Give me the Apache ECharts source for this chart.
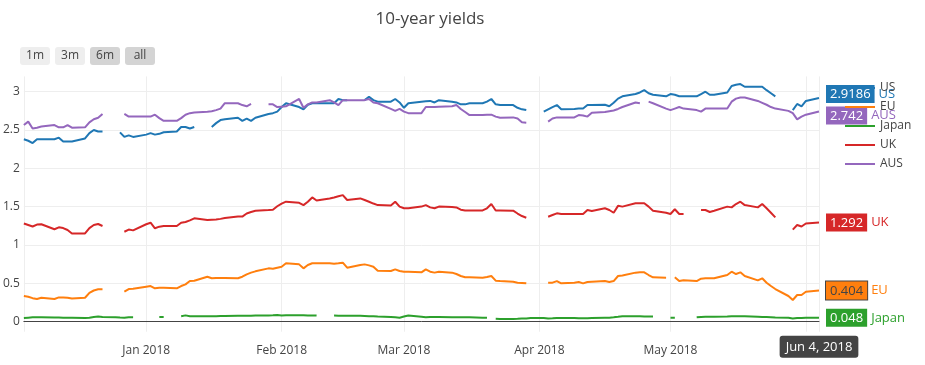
<!DOCTYPE html>
<html><head><meta charset="utf-8">
<script src="https://cdn.jsdelivr.net/npm/echarts@6/dist/echarts.min.js"></script>
<style>html,body{margin:0;padding:0;background:#fff}#c{width:925px;height:365px}</style>
</head><body><div id="c"></div>
<script>
// business days from Dec 4, 2017 to Jun 4, 2018
const startDay = [2017, 11, 4];
const endDay = [2018, 5, 4];
const dates = [];
(function(){
  const d = new Date(startDay[0], startDay[1], startDay[2]);
  const e = new Date(endDay[0], endDay[1], endDay[2]);
  while (d <= e) {
    const w = d.getDay();
    if (w !== 0 && w !== 6) {
      dates.push(d.getFullYear() + '-' + String(d.getMonth()+1).padStart(2,'0') + '-' + String(d.getDate()).padStart(2,'0'));
    }
    d.setDate(d.getDate() + 1);
  }
})();

const seriesNames = ['US', 'EU', 'Japan', 'UK', 'AUS'];
const seriesColors = ['#1f77b4', '#ff7f0e', '#2ca02c', '#d62728', '#9467bd'];
const buttonLabels = ['1m', '3m', '6m', 'all'];

const us = [
  2.38, 2.36, 2.33, 2.38, 2.38,
  2.38, 2.40, 2.35, 2.35, 2.35,
  2.39, 2.46, 2.50, 2.48, 2.48,
  null, 2.47, 2.41, 2.43, 2.41,
  2.44, 2.46, 2.44, 2.45, 2.47,
  2.48, 2.54, 2.54, 2.52, 2.54,
  null, 2.54, 2.59, 2.63, 2.64,
  2.66, 2.62, 2.65, 2.62, 2.66,
  2.71, 2.72, 2.74, 2.80, 2.85,
  2.80, 2.77, 2.83, 2.85, 2.85,
  2.85, 2.85, 2.905, 2.89, 2.89,
  null, 2.89, 2.935, 2.89, 2.87,
  2.87, 2.905, 2.86, 2.79, 2.85,
  2.87, 2.875, 2.88, 2.86, 2.89,
  2.87, 2.86, 2.835, 2.835, 2.85,
  2.85, 2.87, 2.905, 2.835, 2.826,
  2.826, 2.79, 2.77, 2.76, null,
  2.74, 2.77, 2.80, 2.826, 2.77,
  2.775, 2.78, 2.78, 2.826, 2.826,
  2.83, 2.81, 2.855, 2.91, 2.94,
  2.97, 2.99, 3.02, 2.98, 2.96,
  2.94, 2.97, 2.96, 2.94, 2.94,
  2.94, 2.97, 3.00, 2.96, 2.96,
  2.99, 3.075, 3.09, 3.10, 3.065,
  3.065, 3.065, 3.02, 2.98, 2.94,
  null, 2.76, 2.84, 2.81, 2.88,
  2.9186
];
const eu = [
  0.333, 0.323, 0.305, 0.294, 0.31,
  0.294, 0.315, 0.315, 0.31, 0.30,
  0.31, 0.375, 0.405, 0.42, 0.42,
  null, null, 0.39, 0.424, 0.428,
  0.455, 0.463, 0.433, 0.44, 0.44,
  0.433, 0.463, 0.485, 0.528, 0.532,
  0.585, 0.564, 0.568, 0.568, 0.568,
  0.564, 0.585, 0.616, 0.638, 0.655,
  0.694, 0.69, 0.703, 0.716, 0.76,
  0.746, 0.694, 0.738, 0.76, 0.76,
  0.76, 0.755, 0.76, 0.768, 0.703,
  0.738, 0.746, 0.733, 0.716, 0.663,
  0.659, 0.681, 0.659, 0.65, 0.65,
  0.642, 0.681, 0.65, 0.638, 0.65,
  0.638, 0.62, 0.594, 0.577, 0.577,
  0.572, 0.58, 0.594, 0.533, 0.528,
  0.52, 0.507, 0.503, 0.498, null,
  null, 0.507, 0.507, 0.528, 0.498,
  0.507, 0.515, 0.498, 0.515, 0.52,
  0.528, 0.515, 0.528, 0.594, 0.60,
  0.638, 0.642, 0.642, 0.607, 0.577,
  0.572, null, 0.577, 0.528, 0.54,
  0.528, 0.559, 0.564, 0.564, 0.564,
  0.607, 0.65, 0.62, 0.642, 0.594,
  0.537, 0.564, 0.507, 0.463, 0.424,
  0.333, 0.281, 0.346, 0.346, 0.389,
  0.404
];
const japan = [
  0.045, 0.05, 0.055, 0.055, 0.055,
  0.053, 0.052, 0.05, 0.05, 0.05,
  0.045, 0.048, 0.06, 0.065, 0.06,
  0.055, 0.052, 0.05, 0.055, 0.055,
  null, null, null, 0.06, 0.06,
  null, 0.07, 0.08, 0.07, 0.07,
  0.07, 0.07, 0.07, 0.072, 0.072,
  0.075, 0.075, 0.075, 0.075, 0.078,
  0.08, 0.082, 0.085, 0.08, 0.082,
  0.082, 0.082, 0.08, 0.08, 0.078,
  null, 0.077, 0.076, 0.075, 0.075,
  0.074, 0.072, 0.07, 0.068, 0.065,
  0.058, 0.055, 0.05, 0.065, 0.078,
  0.062, 0.055, 0.06, 0.058, 0.058,
  0.055, 0.055, 0.055, 0.056, 0.055,
  0.05, 0.05, null, 0.035, 0.033,
  0.033, 0.035, 0.038, 0.04, 0.045,
  0.045, 0.04, 0.042, 0.045, 0.045,
  0.045, 0.042, 0.042, 0.043, 0.045,
  0.05, 0.05, 0.055, 0.062, 0.07,
  0.07, 0.07, 0.065, 0.065, 0.065,
  null, 0.05, 0.05, null, null,
  0.055, 0.06, 0.062, 0.062, 0.062,
  0.065, 0.068, 0.07, 0.068, 0.068,
  0.062, 0.06, 0.058, 0.055, 0.052,
  0.05, 0.04, 0.045, 0.045, 0.05,
  0.048
];
const uk = [
  1.28, 1.26, 1.24, 1.265, 1.27,
  1.205, 1.23, 1.22, 1.195, 1.15,
  1.15, 1.22, 1.26, 1.273, 1.247,
  null, null, 1.172, 1.20, 1.19,
  1.27, 1.29, 1.217, 1.238, 1.247,
  1.247, 1.29, 1.30, 1.32, 1.347,
  1.325, 1.33, 1.333, 1.34, 1.35,
  1.37, 1.37, 1.41, 1.43, 1.447,
  1.455, 1.46, 1.505, 1.54, 1.565,
  1.55, 1.52, 1.564, 1.62, 1.58,
  1.607, 1.62, 1.635, 1.65, 1.586,
  1.607, 1.586, 1.564, 1.54, 1.52,
  1.515, 1.564, 1.50, 1.478, 1.48,
  1.50, 1.52, 1.49, 1.478, 1.50,
  1.495, 1.49, 1.46, 1.45, 1.45,
  1.45, 1.478, 1.534, 1.45, 1.45,
  1.447, 1.41, 1.377, 1.355, null,
  null, 1.368, 1.39, 1.412, 1.405,
  1.405, 1.405, 1.405, 1.456, 1.443,
  1.478, 1.456, 1.42, 1.51, 1.50,
  1.543, 1.543, 1.543, 1.50, 1.447,
  1.42, 1.403, 1.465, 1.403, 1.403,
  null, 1.456, 1.456, 1.43, 1.447,
  1.50, 1.49, 1.534, 1.564, 1.52,
  1.49, 1.534, 1.478, 1.42, 1.36,
  null, 1.20, 1.26, 1.24, 1.28,
  1.292
];
const aus = [
  2.565, 2.61, 2.52, 2.53, 2.545,
  2.565, 2.535, 2.535, 2.565, 2.53,
  2.535, 2.60, 2.64, 2.66, 2.71,
  null, null, 2.71, 2.675, 2.675,
  2.675, 2.675, 2.70, 2.655, 2.62,
  2.62, 2.655, 2.70, 2.72, 2.73,
  2.74, 2.745, 2.76, 2.78, 2.85,
  2.85, 2.826, 2.81, 2.84, null,
  2.835, 2.835, 2.80, 2.805, 2.81,
  2.905, 2.79, 2.835, 2.86, 2.86,
  2.89, 2.86, 2.826, 2.89, 2.89,
  2.89, 2.89, 2.905, 2.86, 2.85,
  2.775, 2.75, 2.775, 2.74, 2.72,
  2.72, 2.80, 2.80, 2.80, 2.805,
  2.81, 2.826, 2.775, 2.735, 2.695,
  2.695, 2.70, 2.70, 2.675, 2.66,
  2.665, 2.65, 2.60, 2.595, null,
  null, 2.61, 2.65, 2.665, 2.665,
  2.665, 2.695, 2.69, 2.675, 2.725,
  2.735, 2.745, 2.755, 2.775, 2.80,
  2.86, 2.85, null, 2.87, 2.85,
  2.78, 2.76, 2.78, 2.80, 2.78,
  2.76, 2.74, 2.78, 2.78, 2.78,
  2.78, 2.87, 2.91, 2.925, 2.925,
  2.88, 2.855, 2.83, 2.80, 2.78,
  2.75, 2.72, 2.64, 2.675, 2.70,
  2.742
];
const allValues = [us, eu, japan, uk, aus];

const FONT = 'Open Sans';
const MONTHS = ['Jan','Feb','Mar','Apr','May','Jun','Jul','Aug','Sep','Oct','Nov','Dec'];
const xMin = new Date(startDay[0], startDay[1], startDay[2]).getTime();
const xMax = new Date(endDay[0], endDay[1], endDay[2]).getTime();

const labelText = ['#fff', '#444', '#fff', '#fff', '#fff'];
const labelBorder = ['#fff', '#444', '#fff', '#fff', '#fff'];
const labelOffsets = [[0, -4], [0, 0], [0, 0], [0, 0], [0, 4]];

const series = seriesNames.map((name, k) => ({
  name: name,
  type: 'line',
  data: dates.map((d, i) => [d, allValues[k][i]]),
  showSymbol: false,
  symbol: 'none',
  connectNulls: false,
  color: seriesColors[k],
  lineStyle: { width: 2, color: seriesColors[k] },
  emphasis: { disabled: true },
  endLabel: {
    show: true,
    distance: 7,
    offset: labelOffsets[k],
    formatter: p => '{b|' + p.value[1] + '}{n|' + p.seriesName + '}',
    rich: {
      b: { backgroundColor: seriesColors[k], color: labelText[k], borderColor: labelBorder[k], borderWidth: 1,
           padding: [3, 4, 2, 4], fontSize: 13, fontFamily: FONT },
      n: { color: seriesColors[k], fontSize: 13, fontFamily: FONT, padding: [0, 0, 0, 4] }
    }
  }
}));

const btnX = [20, 55, 90, 125];
const btnFill = ['#eeeeee', '#eeeeee', '#d4d4d4', '#d4d4d4'];
const graphic = [];
buttonLabels.forEach((t, i) => {
  graphic.push({ type: 'rect', shape: { x: btnX[i], y: 47, width: 30, height: 18, r: 3 }, style: { fill: btnFill[i] }, z: 10 });
  graphic.push({ type: 'text', x: btnX[i] + 15, y: 56, style: { text: t, fill: '#444', font: '12px "Open Sans"', align: 'center', verticalAlign: 'middle' }, z: 11 });
});

const chart = echarts.init(document.getElementById('c'), null, { renderer: 'canvas' });
chart.setOption({
  animation: false,
  backgroundColor: '#fff',
  title: {
    text: '10-year yields', left: 425, top: 6, textAlign: 'center',
    textStyle: { fontSize: 17, color: '#444', fontWeight: 'normal', fontFamily: FONT }
  },
  legend: {
    data: seriesNames, orient: 'vertical', left: 840, top: 77,
    icon: 'rect', itemWidth: 30, itemHeight: 2, itemGap: 7,
    textStyle: { color: '#444', fontSize: 12, fontFamily: FONT },
    selectedMode: false
  },
  grid: { left: 20, right: 106, top: 76.4, bottom: 33.3, containLabel: false },
  xAxis: {
    type: 'time', min: xMin, max: xMax,
    splitLine: { show: true, lineStyle: { color: '#eee', width: 1 } },
    axisLine: { show: true, onZero: true, lineStyle: { color: '#444', width: 1 } },
    axisTick: { show: false },
    axisLabel: { color: '#444', fontSize: 12, fontFamily: FONT, margin: 13, formatter: '{MMM} {yyyy}', hideOverlap: false },
    axisPointer: {
      show: true, type: 'line', value: xMax, status: 'show', snap: false, triggerTooltip: false,
      lineStyle: { opacity: 0 },
      label: {
        show: true, backgroundColor: '#444', color: '#fff', fontSize: 13, fontFamily: FONT,
        padding: [5, 6, 4, 6], margin: 4,
        formatter: p => { const d = new Date(p.value); return MONTHS[d.getMonth()] + ' ' + d.getDate() + ', ' + d.getFullYear(); }
      }
    }
  },
  yAxis: {
    type: 'value', min: -0.133, max: 3.2,
    splitLine: { show: true, showMinLine: false, showMaxLine: false, lineStyle: { color: '#eee', width: 1 } },
    axisLine: { show: false },
    axisTick: { show: false },
    axisLabel: { color: '#444', fontSize: 12, fontFamily: FONT, margin: 4, showMinLabel: false, showMaxLabel: false }
  },
  graphic: graphic,
  series: series
});
</script>
</body></html>
